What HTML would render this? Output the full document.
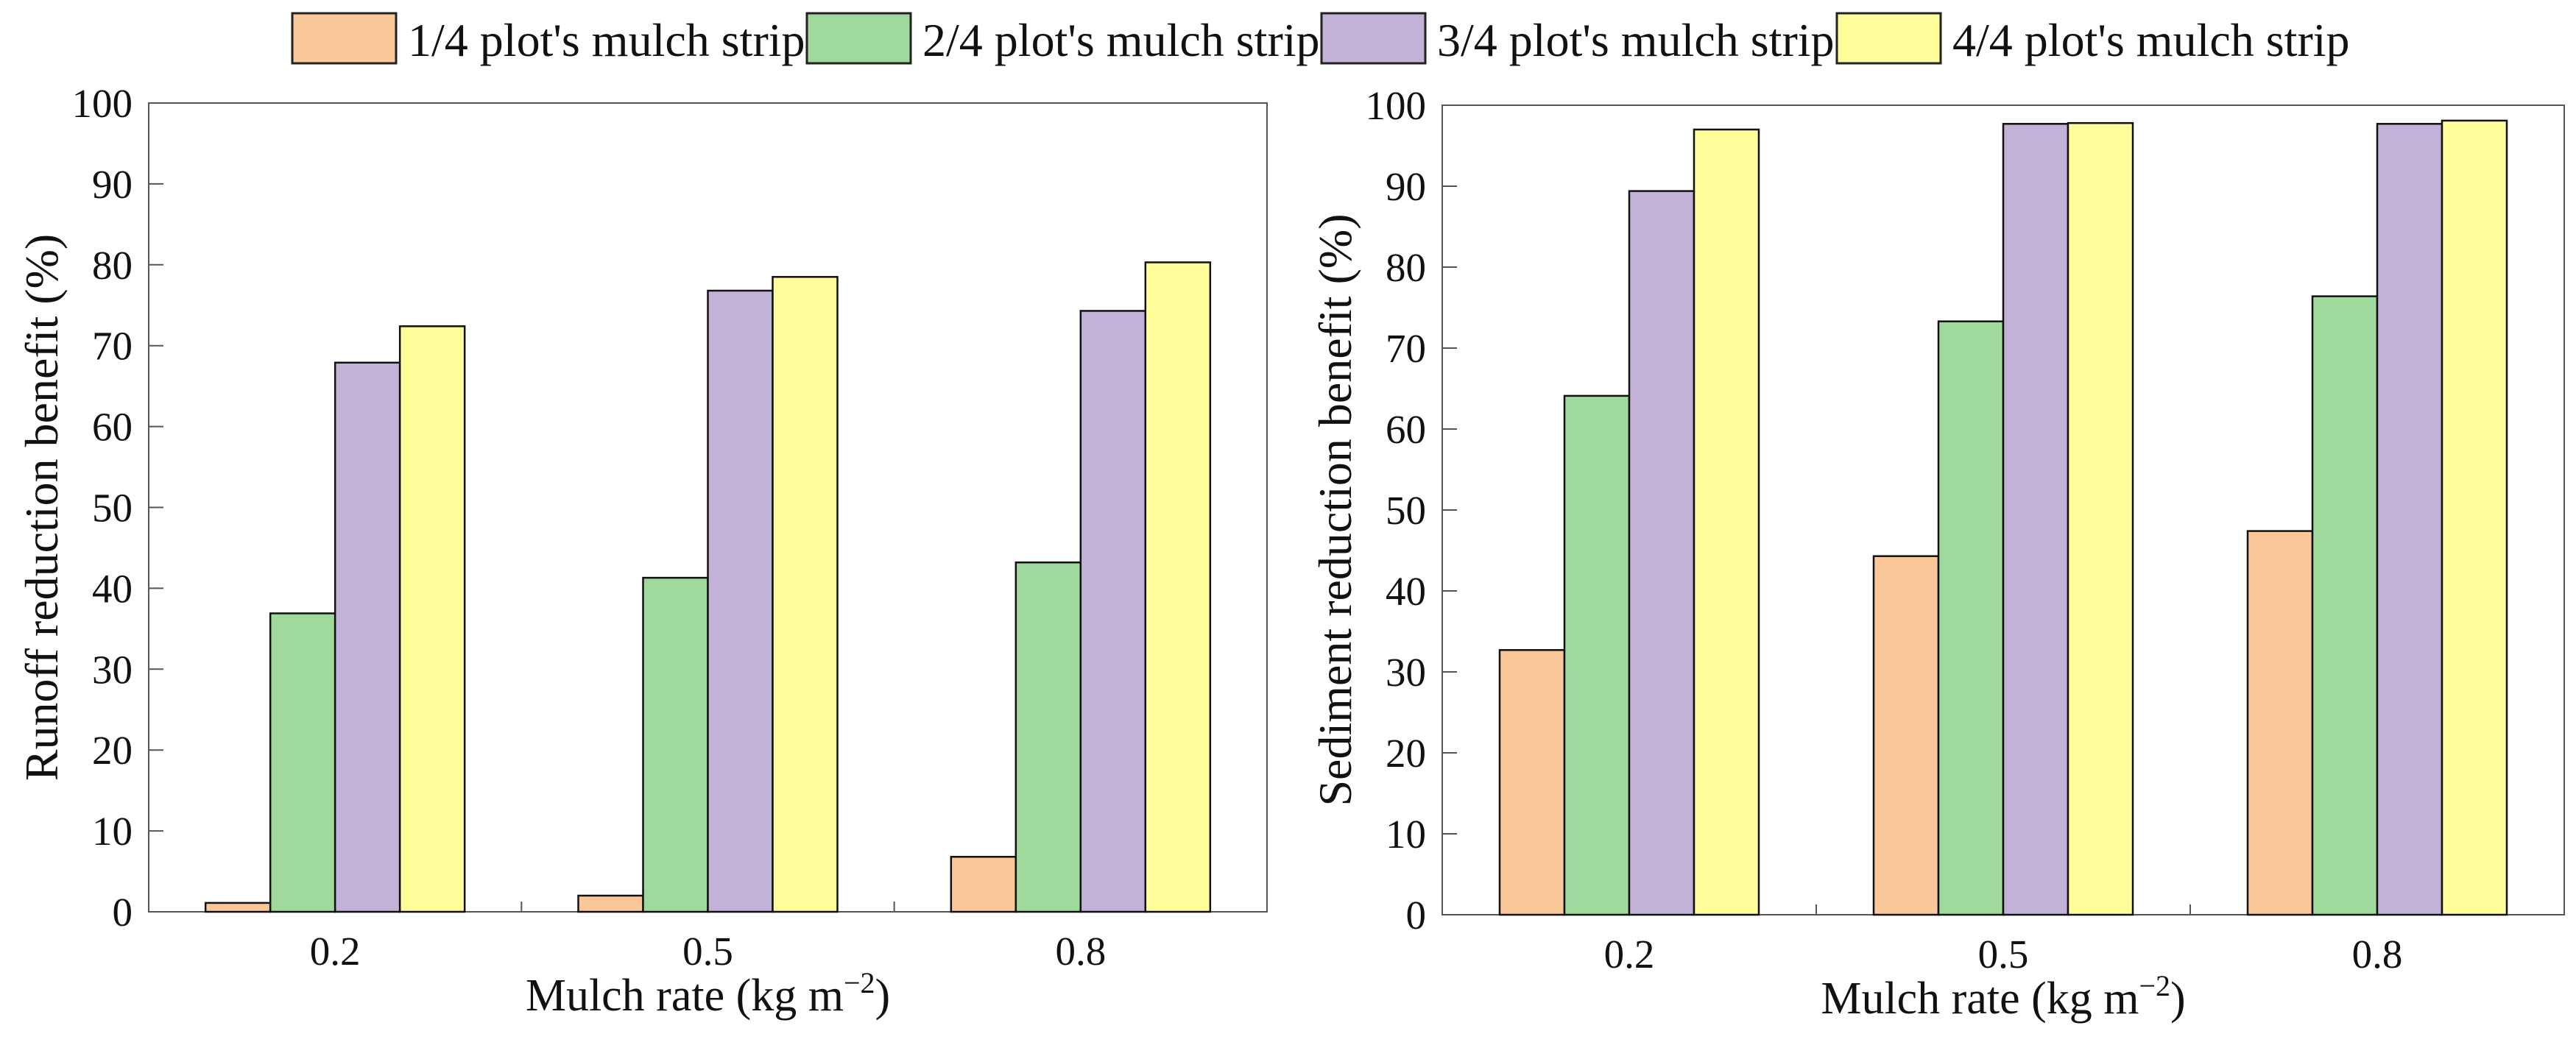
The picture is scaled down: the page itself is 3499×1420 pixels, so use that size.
<!DOCTYPE html>
<html><head><meta charset="utf-8"><style>
html,body{margin:0;padding:0;background:#fff;overflow:hidden;}
svg{display:block;font-family:"Liberation Serif",serif;}
</style></head><body>
<svg id="c" width="3499" height="1420" viewBox="0 0 3499 1420" xmlns="http://www.w3.org/2000/svg"></svg>
<script>
const categories = ["0.2","0.5","0.8"];
const seriesNames = ["1/4 plot's mulch strip","2/4 plot's mulch strip","3/4 plot's mulch strip","4/4 plot's mulch strip"];
const colors = ["#fac898","#9fd99c","#c3b2d7","#fffe9a"];
const runoff = [[1.1,2.0,6.8],[36.9,41.3,43.2],[67.9,76.8,74.3],[72.4,78.5,80.3]];
const sediment = [[32.7,44.3,47.4],[64.1,73.3,76.4],[89.4,97.7,97.7],[97.0,97.8,98.1]];
const yTicks = [0,10,20,30,40,50,60,70,80,90,100];

const svg = document.getElementById('c');
const NS = "http://www.w3.org/2000/svg";
function mk(tag, attrs, parent){const e=document.createElementNS(NS,tag);for(const k in attrs)e.setAttribute(k,attrs[k]);(parent||svg).appendChild(e);return e;}

// legend
const legX=[397,1096,1795,2495];
seriesNames.forEach((n,i)=>{
  const g=mk('g',{});
  
  
  mk('rect',{x:legX[i],y:18,width:141,height:68,fill:colors[i],stroke:'#222','stroke-width':3},g);
  const t=mk('text',{x:legX[i]+157,y:76,'font-size':64,fill:'#111'},g);
  t.textContent=n;
});

function panel(name, x0, x1, y0, y1, data, title){
  const g=mk('g',{});
  
  
  const W=x1-x0, H=y1-y0;
  const ys=v=>y1-v/100*H;
  const gw=W/categories.length, bw=88;
  mk('rect',{x:x0,y:y0,width:W,height:H,fill:'none',stroke:'#555','stroke-width':2},g);
  yTicks.forEach(t=>{
    const y=ys(t);
    mk('line',{x1:x0,x2:x0+20,y1:y,y2:y,stroke:'#555','stroke-width':2},g);
    const tx=mk('text',{x:x0-22,y:y+19,'font-size':55,'text-anchor':'end',fill:'#111'},g);
    
    
    tx.textContent=t;
  });
  categories.forEach((c,ci)=>{
    const cx=x0+gw*(ci+0.5);
    if(ci>0) mk('line',{x1:x0+gw*ci,x2:x0+gw*ci,y1:y1,y2:y1-14,stroke:'#555','stroke-width':2},g);
    data.forEach((s,si)=>{
      const v=s[ci];
      const r=mk('rect',{x:cx-2*bw+si*bw,y:ys(v),width:bw,height:y1-ys(v),fill:colors[si],stroke:'#111','stroke-width':2.5},g);
      
      
    });
    const tx=mk('text',{x:cx,y:y1+72,'font-size':55,'text-anchor':'middle',fill:'#111'},g);
    
    
    tx.textContent=c;
  });
  const xt=mk('text',{x:x0+W/2,y:y1+134,'font-size':62,'text-anchor':'middle',fill:'#111'},g);
  
  
  xt.innerHTML='Mulch rate (kg m<tspan dy="-24" font-size="40">\u22122</tspan><tspan dy="24">)</tspan>';
  const yt=mk('text',{x:0,y:0,'font-size':64,'text-anchor':'middle',fill:'#111',transform:`translate(${x0-124},${y0+H/2}) rotate(-90)`},g);
  
  
  yt.textContent=title;
}
panel('runoff-panel',202,1721,140,1239,runoff,'Runoff reduction benefit (%)');
panel('sediment-panel',1959,3483,143,1243,sediment,'Sediment reduction benefit (%)');
</script>
</body></html>
